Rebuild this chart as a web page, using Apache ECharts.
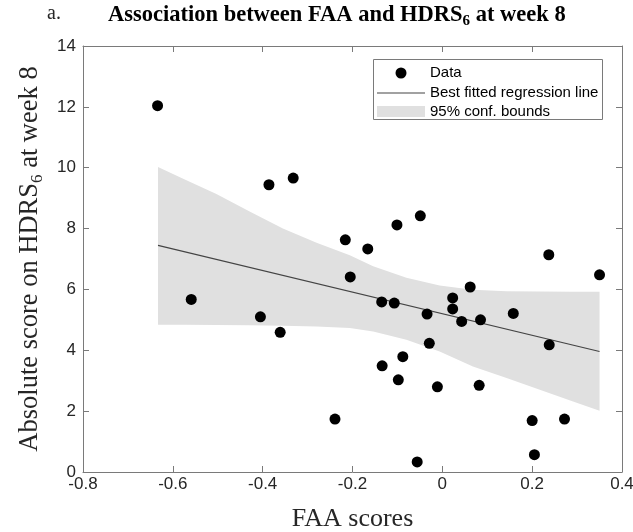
<!DOCTYPE html>
<html>
<head>
<meta charset="utf-8">
<script src="https://cdn.jsdelivr.net/npm/echarts@6/dist/echarts.min.js"></script>
<style>
  html, body { margin: 0; padding: 0; background: #fff; }
  #chart { width: 633px; height: 532px; }
</style>
</head>
<body>
<div id="chart"></div>
<script>
// FAA score and HDRS6 at week 8, one entry per subject
var faa = [-0.634, -0.559, -0.405, -0.361, -0.386, -0.332, -0.216, -0.205, -0.166, -0.101,
  -0.049, -0.135, -0.107, -0.034, 0.023, 0.023, 0.043, 0.062, 0.085, 0.158,
  0.237, 0.350, 0.238, -0.029, -0.088, -0.134, -0.098, -0.011, 0.082, -0.239,
  0.200, 0.272, 0.205, -0.056];
var hdrs = [12.04, 5.67, 5.10, 4.59, 9.44, 9.66, 7.63, 6.41, 7.33, 8.12,
  8.42, 5.59, 5.55, 5.19, 5.72, 5.36, 4.95, 6.08, 5.00, 5.21,
  7.14, 6.48, 4.18, 4.23, 3.79, 3.49, 3.03, 2.80, 2.85, 1.74,
  1.69, 1.74, 0.57, 0.33];

// regression line ends
var fitX = [-0.633, 0.350];
var fitY = [7.45, 3.96];

// 95% confidence band, read along its edges
var bandX = [-0.633, -0.577, -0.503, -0.429, -0.355, -0.280, -0.206, -0.154, -0.080, -0.006,
  0.068, 0.143, 0.217, 0.291, 0.350];
var bandUpper = [10.02, 9.64, 9.14, 8.56, 8.00, 7.53, 7.12, 6.76, 6.38, 6.13,
  5.99, 5.94, 5.93, 5.92, 5.92];
var bandLower = [4.84, 4.84, 4.83, 4.82, 4.81, 4.78, 4.73, 4.62, 4.35, 3.96,
  3.47, 3.09, 2.70, 2.32, 2.01];

// axis ranges and tick steps
var xRange = [-0.8, 0.4];
var xStep = 0.2;
var yRange = [0, 14];
var yStep = 2;

var axisColor = "#7a7a7a";
var textColor = "#262626";
var serif = "Liberation Serif";
var sans = "Liberation Sans";

var scatterData = faa.map(function (x, i) { return [x, hdrs[i]]; });
var fitData = fitX.map(function (x, i) { return [x, fitY[i]]; });

function boxAxis(pos, range, step) {
  return {
    type: "value",
    position: pos,
    min: range[0],
    max: range[1],
    interval: step,
    axisLine: { show: true, onZero: false, lineStyle: { color: axisColor, width: 1 } },
    axisTick: { show: true, inside: true, length: 6, lineStyle: { color: axisColor } },
    axisLabel: { show: false },
    splitLine: { show: false },
  };
}

var legendText = { fontFamily: sans, fontSize: 15, color: "#000" };

var chart = echarts.init(document.getElementById("chart"));

var option = {
  animation: false,
  backgroundColor: "#fff",
  title: [
    {
      text: "a.",
      left: 47,
      top: 4,
      padding: 0,
      textStyle: { fontFamily: serif, fontWeight: "normal", fontSize: 20, color: textColor },
    },
    {
      text: "Association between FAA and HDRS{sub|6} at week 8",
      left: 108,
      top: 2,
      padding: 0,
      textStyle: {
        fontFamily: serif,
        fontWeight: "bold",
        fontSize: 22.5,
        color: "#000",
        lineHeight: 27,
        rich: {
          sub: { fontFamily: serif, fontWeight: "bold", fontSize: 15, lineHeight: 15, verticalAlign: "bottom", color: "#000" },
        },
      },
    },
  ],
  grid: {
    left: 83,
    top: 46,
    width: 539,
    height: 426,
    outerBoundsMode: "none",
  },
  legend: [
    {
      data: [{ name: "Data", icon: "circle", itemStyle: { color: "#000" } }],
      left: 395.5,
      top: 65.5,
      padding: 0,
      itemWidth: 48,
      itemHeight: 11,
      selectedMode: false,
      textStyle: legendText,
    },
    {
      data: [{ name: "Best fitted regression line", icon: "rect", itemStyle: { color: "#444" } }],
      left: 377,
      top: 85.5,
      padding: 0,
      itemWidth: 48,
      itemHeight: 1,
      selectedMode: false,
      textStyle: legendText,
    },
    {
      data: [{ name: "95% conf. bounds", icon: "rect", itemStyle: { color: "#e0e0e0" } }],
      left: 377,
      top: 104,
      padding: 0,
      itemWidth: 48,
      itemHeight: 11,
      selectedMode: false,
      textStyle: legendText,
    },
  ],
  graphic: [
    {
      type: "rect",
      shape: { x: 373.5, y: 59.5, width: 229, height: 60 },
      style: { fill: "none", stroke: axisColor, lineWidth: 1 },
      silent: true,
    },
  ],
  xAxis: [
    Object.assign(boxAxis("bottom", xRange, xStep), {
      name: "FAA scores",
      nameLocation: "middle",
      nameGap: 34,
      nameTextStyle: { fontFamily: serif, fontSize: 26, color: textColor },
      axisLabel: { show: true, fontFamily: sans, fontSize: 17, color: textColor, margin: 4 },
    }),
    boxAxis("top", xRange, xStep),
  ],
  yAxis: [
    Object.assign(boxAxis("left", yRange, yStep), {
      name: "Absolute score on HDRS{sub|6} at week 8",
      nameLocation: "middle",
      nameGap: 35,
      nameTextStyle: {
        fontFamily: serif,
        fontSize: 26.5,
        color: textColor,
        lineHeight: 32,
        rich: {
          sub: { fontFamily: serif, fontSize: 17, lineHeight: 17, verticalAlign: "bottom", color: textColor },
        },
      },
      axisLabel: { show: true, fontFamily: sans, fontSize: 17, color: textColor, margin: 7 },
    }),
    boxAxis("right", yRange, yStep),
  ],
  series: [
    {
      name: "95% conf. bounds",
      type: "custom",
      itemStyle: { color: "#e0e0e0" },
      data: [[bandX[0], bandLower[0]]],
      z: 1,
      renderItem: function (params, api) {
        var pts = [];
        for (var i = 0; i < bandX.length; i++) {
          pts.push(api.coord([bandX[i], bandUpper[i]]));
        }
        for (var j = bandX.length - 1; j >= 0; j--) {
          pts.push(api.coord([bandX[j], bandLower[j]]));
        }
        return { type: "polygon", shape: { points: pts }, style: { fill: "#e0e0e0" } };
      },
    },
    {
      name: "Best fitted regression line",
      type: "line",
      data: fitData,
      showSymbol: false,
      itemStyle: { color: "#444" },
      lineStyle: { color: "#444", width: 1.2 },
      z: 2,
    },
    {
      name: "Data",
      type: "scatter",
      data: scatterData,
      symbolSize: 11,
      itemStyle: { color: "#000", opacity: 1 },
      z: 3,
    },
  ],
};

chart.setOption(option);
</script>
</body>
</html>
